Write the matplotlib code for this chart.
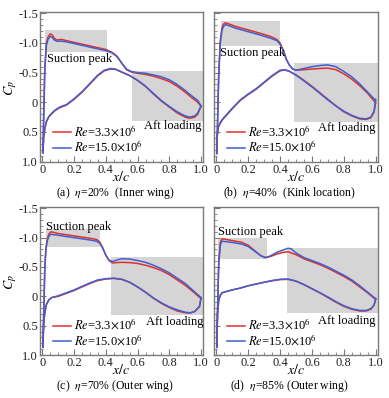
import numpy as np
import matplotlib
matplotlib.use("Agg")
from matplotlib import pyplot as plt
from matplotlib.patches import Rectangle
from matplotlib.ticker import MultipleLocator

plt.rcParams['font.family'] = ['Liberation Serif', 'DejaVu Serif']
plt.rcParams['mathtext.fontset'] = 'stix'

# ---- panel (a) eta=20%
xu_a = [0.003, 0.008, 0.015, 0.025, 0.035, 0.048, 0.06, 0.075, 0.09, 0.12, 0.15, 0.2, 0.25, 0.3, 0.35,
        0.40, 0.44, 0.47, 0.50, 0.53, 0.56, 0.6, 0.65, 0.7, 0.75, 0.8, 0.85, 0.9, 0.95, 0.98, 1.0]
cpu_r_a = [0.85, 0.2, -0.6, -1.0, -1.10, -1.15, -1.14, -1.08, -1.05, -1.06, -1.04, -1.01, -0.98, -0.95, -0.92,
           -0.89, -0.84, -0.78, -0.66, -0.55, -0.51, -0.49, -0.47, -0.44, -0.40, -0.35, -0.27, -0.17, -0.06, 0.0, 0.07]
cpu_b_a = [0.85, 0.25, -0.55, -0.96, -1.06, -1.11, -1.10, -1.05, -1.03, -1.03, -1.02, -0.99, -0.96, -0.93, -0.90,
           -0.87, -0.83, -0.77, -0.66, -0.56, -0.52, -0.50, -0.49, -0.46, -0.43, -0.38, -0.30, -0.20, -0.09, -0.03, 0.06]
xl_a = [0.003, 0.008, 0.015, 0.025, 0.04, 0.06, 0.08, 0.11, 0.15, 0.2, 0.25, 0.3, 0.35, 0.39, 0.43, 0.46,
        0.5, 0.55, 0.6, 0.65, 0.7, 0.75, 0.8, 0.85, 0.9, 0.93, 0.96, 0.98, 1.0]
cpl_r_a = [0.85, 0.6, 0.45, 0.33, 0.25, 0.19, 0.14, 0.09, 0.05, -0.05, -0.17, -0.31, -0.45, -0.53, -0.56, -0.555,
           -0.51, -0.45, -0.37, -0.27, -0.14, -0.02, 0.08, 0.18, 0.25, 0.27, 0.25, 0.2, 0.07]
cpl_b_a = [0.85, 0.58, 0.43, 0.32, 0.24, 0.18, 0.13, 0.08, 0.04, -0.06, -0.18, -0.32, -0.46, -0.54, -0.57, -0.56,
           -0.51, -0.45, -0.37, -0.27, -0.15, -0.03, 0.07, 0.16, 0.23, 0.25, 0.23, 0.18, 0.06]

# ---- panel (b) eta=40%
xu_b = [0.003, 0.008, 0.015, 0.025, 0.035, 0.045, 0.057, 0.08, 0.12, 0.2, 0.28, 0.34, 0.38, 0.40, 0.42,
        0.44, 0.46, 0.48, 0.50, 0.55, 0.6, 0.65, 0.70, 0.75, 0.8, 0.85, 0.9, 0.95, 1.0]
cpu_r_b = [0.85, 0.3, -0.5, -1.05, -1.25, -1.32, -1.34, -1.32, -1.28, -1.22, -1.16, -1.11, -1.06, -1.0, -0.88,
           -0.72, -0.62, -0.56, -0.54, -0.55, -0.56, -0.57, -0.575, -0.55, -0.48, -0.39, -0.28, -0.15, 0.01]
cpu_b_b = [0.85, 0.32, -0.45, -1.0, -1.21, -1.28, -1.31, -1.29, -1.25, -1.19, -1.13, -1.08, -1.04, -0.98, -0.87,
           -0.72, -0.62, -0.56, -0.54, -0.57, -0.60, -0.62, -0.63, -0.60, -0.52, -0.43, -0.31, -0.17, -0.03]
xl_b = [0.003, 0.006, 0.012, 0.025, 0.04, 0.07, 0.1, 0.15, 0.2, 0.25, 0.3, 0.35, 0.4, 0.43, 0.46, 0.5,
        0.55, 0.6, 0.65, 0.7, 0.75, 0.8, 0.85, 0.9, 0.94, 0.97, 0.99, 1.0]
cpl_r_b = [0.85, 0.55, 0.42, 0.35, 0.29, 0.2, 0.11, -0.03, -0.13, -0.22, -0.33, -0.44, -0.53, -0.545, -0.52, -0.46,
           -0.37, -0.27, -0.16, -0.05, 0.06, 0.16, 0.23, 0.28, 0.29, 0.26, 0.17, 0.01]
cpl_b_b = [0.87, 0.55, 0.42, 0.34, 0.28, 0.19, 0.10, -0.04, -0.14, -0.23, -0.34, -0.45, -0.54, -0.55, -0.52, -0.46,
           -0.36, -0.26, -0.15, -0.04, 0.06, 0.15, 0.22, 0.27, 0.28, 0.25, 0.15, -0.05]

# ---- panel (c) eta=70%
xu_c = [0.003, 0.008, 0.015, 0.022, 0.03, 0.04, 0.053, 0.07, 0.1, 0.15, 0.2, 0.25, 0.3, 0.34, 0.36, 0.38,
        0.40, 0.42, 0.44, 0.47, 0.5, 0.55, 0.6, 0.65, 0.7, 0.75, 0.8, 0.85, 0.9, 0.95, 1.0]
cpu_r_c = [0.85, 0.3, -0.5, -0.83, -0.97, -1.06, -1.1, -1.09, -1.07, -1.05, -1.03, -1.01, -0.99, -0.97, -0.93, -0.83,
           -0.70, -0.61, -0.57, -0.575, -0.58, -0.575, -0.56, -0.53, -0.49, -0.44, -0.37, -0.28, -0.19, -0.08, 0.04]
cpu_b_c = [0.87, 0.3, -0.48, -0.80, -0.94, -1.02, -1.06, -1.05, -1.04, -1.02, -1.0, -0.98, -0.96, -0.94, -0.91, -0.82,
           -0.70, -0.62, -0.59, -0.62, -0.64, -0.635, -0.61, -0.58, -0.53, -0.47, -0.40, -0.31, -0.22, -0.10, 0.02]
xl_c = [0.003, 0.008, 0.015, 0.025, 0.04, 0.06, 0.1, 0.15, 0.2, 0.25, 0.3, 0.35, 0.4, 0.45, 0.5, 0.55,
        0.6, 0.65, 0.7, 0.75, 0.8, 0.85, 0.9, 0.93, 0.96, 0.99, 1.0]
cpl_r_c = [0.85, 0.45, 0.28, 0.14, 0.06, 0.02, 0.0, -0.05, -0.1, -0.16, -0.22, -0.27, -0.295, -0.305, -0.29, -0.24,
           -0.16, -0.07, 0.03, 0.12, 0.19, 0.25, 0.28, 0.285, 0.26, 0.17, 0.04]
cpl_b_c = [0.87, 0.45, 0.28, 0.14, 0.06, 0.02, -0.01, -0.06, -0.11, -0.17, -0.23, -0.28, -0.30, -0.31, -0.29, -0.24,
           -0.16, -0.07, 0.03, 0.11, 0.18, 0.23, 0.27, 0.28, 0.26, 0.18, 0.02]

# ---- panel (d) eta=85%
xu_d = [0.003, 0.008, 0.015, 0.025, 0.036, 0.05, 0.08, 0.12, 0.16, 0.2, 0.24, 0.28, 0.31, 0.34, 0.38, 0.42,
        0.45, 0.47, 0.5, 0.55, 0.6, 0.65, 0.7, 0.75, 0.8, 0.85, 0.9, 0.95, 1.0]
cpu_r_d = [0.85, 0.2, -0.6, -0.92, -0.98, -0.975, -0.96, -0.94, -0.92, -0.87, -0.78, -0.69, -0.66, -0.68, -0.72, -0.75,
           -0.76, -0.74, -0.71, -0.64, -0.59, -0.54, -0.48, -0.41, -0.34, -0.26, -0.16, -0.06, 0.055]
cpu_b_d = [0.87, 0.2, -0.55, -0.88, -0.94, -0.935, -0.925, -0.91, -0.89, -0.85, -0.77, -0.69, -0.66, -0.69, -0.75, -0.79,
           -0.82, -0.81, -0.74, -0.66, -0.61, -0.56, -0.50, -0.43, -0.36, -0.28, -0.18, -0.07, 0.04]
xl_d = [0.003, 0.007, 0.015, 0.025, 0.036, 0.06, 0.1, 0.15, 0.2, 0.25, 0.3, 0.35, 0.4, 0.45, 0.5, 0.55,
        0.6, 0.65, 0.7, 0.75, 0.8, 0.85, 0.9, 0.94, 0.97, 0.99, 1.0]
cpl_r_d = [0.85, 0.3, 0.07, -0.02, -0.06, -0.08, -0.11, -0.14, -0.18, -0.21, -0.24, -0.265, -0.285, -0.29, -0.26, -0.2,
           -0.13, -0.06, 0.02, 0.1, 0.17, 0.22, 0.25, 0.25, 0.22, 0.15, 0.055]
cpl_b_d = [0.87, 0.3, 0.07, -0.02, -0.06, -0.08, -0.11, -0.14, -0.18, -0.21, -0.24, -0.27, -0.29, -0.295, -0.26, -0.2,
           -0.13, -0.06, 0.01, 0.09, 0.16, 0.21, 0.24, 0.24, 0.21, 0.15, 0.04]

# gray boxes: (x0, x1, cp_top, cp_bottom)
peak_boxes = [(0.017, 0.41, -1.215, -0.85), (0.03, 0.40, -1.37, -0.95),
              (0.02, 0.36, -1.15, -0.84), (0.01, 0.315, -1.0, -0.63)]
aft_boxes = [(0.563, 1.02, -0.53, 0.31), (0.49, 1.02, -0.67, 0.33),
             (0.43, 1.02, -0.67, 0.32), (0.445, 1.02, -0.83, 0.29)]
peak_text = [(0.03, -0.73), (0.025, -0.83), (0.02, -1.18), (0.01, -1.09)]
aft_text = [(0.64, 0.40), (0.64, 0.43), (0.65, 0.43), (0.64, 0.42)]
captions = [r'(a)  $\eta$=20%  (Inner wing)', r'(b)  $\eta$=40%  (Kink location)',
            r'(c)  $\eta$=70% (Outer wing)', r'(d)  $\eta$=85% (Outer wing)']
labels = [r'$Re$=3.3$\times$10$^6$', r'$Re$=15.0$\times$10$^6$']

panels = [(xu_a, cpu_r_a, cpu_b_a, xl_a, cpl_r_a, cpl_b_a),
          (xu_b, cpu_r_b, cpu_b_b, xl_b, cpl_r_b, cpl_b_b),
          (xu_c, cpu_r_c, cpu_b_c, xl_c, cpl_r_c, cpl_b_c),
          (xu_d, cpu_r_d, cpu_b_d, xl_d, cpl_r_d, cpl_b_d)]

red = '#e0302c'
blue = '#3f5fd0'
frame = '#7a7a7a'
fs = 9

fig = plt.figure(figsize=(3.89, 3.98), dpi=100)
rects = [[0.103, 0.594, 0.419, 0.377], [0.550, 0.594, 0.421, 0.377],
         [0.103, 0.108, 0.419, 0.373], [0.550, 0.108, 0.421, 0.373]]

for i, (xu, cur, cub, xl, clr, clb) in enumerate(panels):
    ax = fig.add_axes(rects[i])
    x0, x1, t, b = peak_boxes[i]
    ax.add_patch(Rectangle((x0, t), x1 - x0, b - t, color='#d5d5d5', lw=0, zorder=0))
    x0, x1, t, b = aft_boxes[i]
    ax.add_patch(Rectangle((x0, t), x1 - x0, b - t, color='#d5d5d5', lw=0, zorder=0))

    ax.plot(xu, cur, color=red, lw=1.1, label=labels[0])
    ax.plot(xu, cub, color=blue, lw=1.1, label=labels[1])
    ax.plot(xl, clr, color=red, lw=1.1)
    ax.plot(xl, clb, color=blue, lw=1.1)

    ax.text(peak_text[i][0], peak_text[i][1], 'Suction peak', fontsize=fs, va='center', ha='left')
    ax.text(aft_text[i][0], aft_text[i][1], 'Aft loading', fontsize=fs, va='center', ha='left')

    ax.set_xlim(-0.015, 1.013)
    ax.set_ylim(1.0, -1.53)
    ax.xaxis.set_major_locator(MultipleLocator(0.2))
    ax.xaxis.set_minor_locator(MultipleLocator(0.05))
    ax.yaxis.set_major_locator(MultipleLocator(0.5))
    ax.yaxis.set_minor_locator(MultipleLocator(0.1))
    ax.tick_params(which='both', direction='in', colors=frame, labelcolor='#222222', labelsize=fs, pad=1.5)
    ax.tick_params(which='major', length=4)
    ax.tick_params(which='minor', length=2)
    ax.set_xticks([0, 0.2, 0.4, 0.6, 0.8, 1.0])
    ax.set_xticklabels(['0', '0.2', '0.4', '0.6', '0.8', '1.0'])
    if i % 2 == 0:
        ax.set_yticks([-1.5, -1.0, -0.5, 0, 0.5, 1.0])
        ax.set_yticklabels(['-1.5', '-1.0', '-0.5', '0', '0.5', '1.0'])
        ax.text(-0.18, 0.49, r'$C_p$', transform=ax.transAxes, rotation=90,
                ha='center', va='center', fontsize=10)
    else:
        ax.set_yticklabels([])
    for s in ax.spines.values():
        s.set_color(frame)
        s.set_linewidth(1.0)
    ax.text(0.5, -0.1, r'$x/c$', transform=ax.transAxes, ha='center', va='center', fontsize=10)
    ax.text(0.46, -0.21, captions[i], transform=ax.transAxes, ha='center', va='center', fontsize=8.5)

    ax.legend(loc='lower left', bbox_to_anchor=(0.05, 0.01), frameon=False, fontsize=fs,
              handlelength=1.4, handletextpad=0.25, borderaxespad=0, labelspacing=0.0)

fig.savefig('out.png', dpi=100)
